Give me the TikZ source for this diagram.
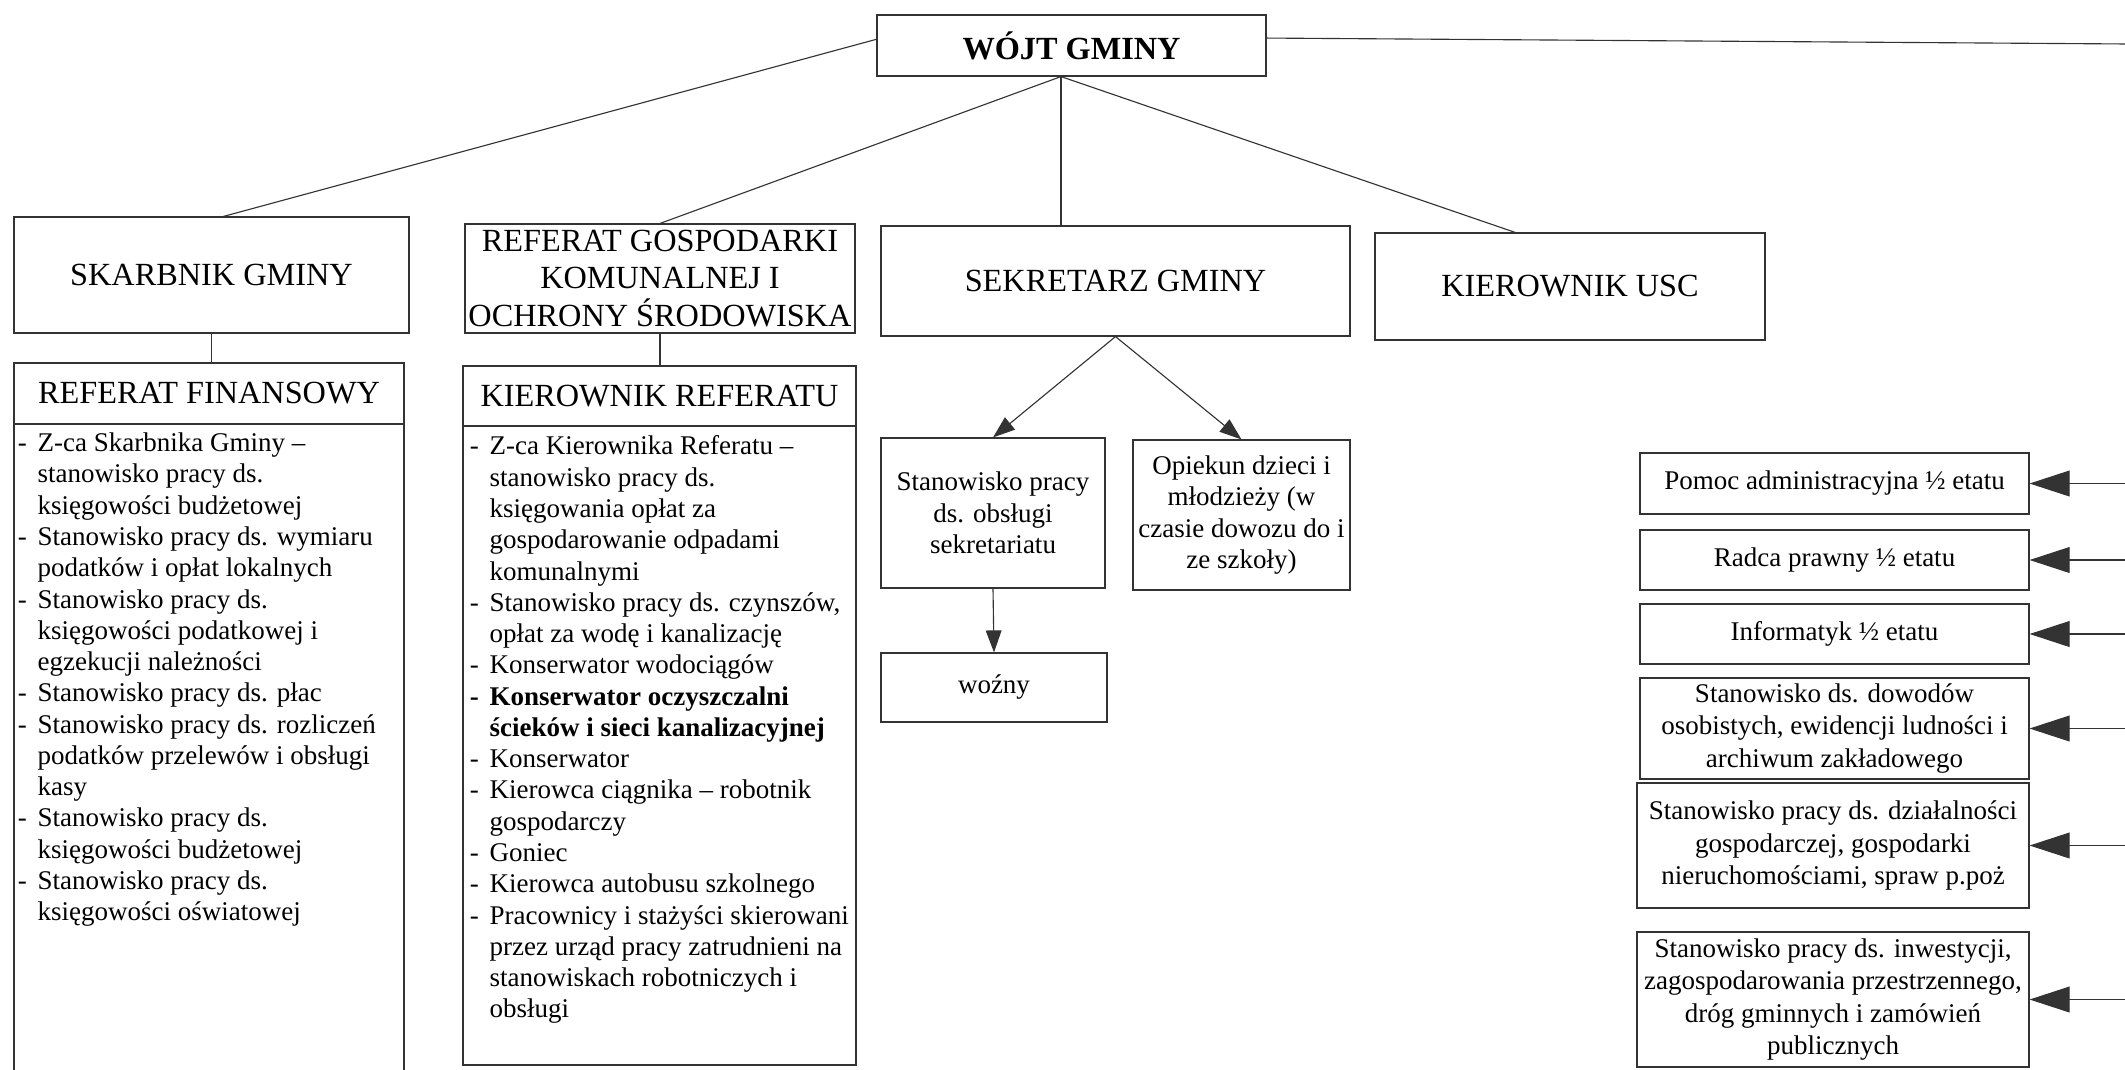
\documentclass[tikz,border=0pt]{standalone}
\usepackage{fontspec}
\setmainfont{Liberation Serif}
\usetikzlibrary{arrows.meta,calc}
\def\pxu{0.4444pt}
\newcommand{\li}{\makebox[8.8pt][l]{-}}
\newcommand{\ci}{\hspace*{8.8pt}}
\tikzset{
  box/.style 2 args={draw=black!80, line width=0.5pt, rectangle, inner sep=0pt,
    minimum width={#1*\pxu}, minimum height={#2*\pxu}, align=center},
  headfont/.style={font=\fontsize{14.35}{16.5}\selectfont},
  bodyfont/.style={font=\fontsize{12}{13.9}\selectfont},
  rightfont/.style={font=\fontsize{12}{14.4}\selectfont},
  listtext/.style={anchor=north west, inner sep=0pt, align=left, font=\fontsize{12}{13.9}\selectfont},
  conn/.style={draw=black!80, line width=0.5pt},
  sarrow/.style={conn, -{Triangle[length=9.8pt,width=7pt]}},
  barrow/.style={conn, -{Triangle[length=17.8pt,width=11.5pt]}},
}
\begin{document}
\begin{tikzpicture}[x=\pxu, y=-\pxu]
\useasboundingbox (0,0) rectangle (2125,1069);

% top level
\node[box={389}{61}, font=\fontsize{14.35}{16.5}\selectfont\bfseries] (wojt) at (1071.5,45.5) {WÓJT GMINY};
\node[box={395}{116}, headfont] (skarb) at (211.5,275) {SKARBNIK GMINY};
\node[box={390}{109}, headfont] (refg) at (660,278.5) {REFERAT GOSPODARKI\\KOMUNALNEJ I\\OCHRONY ŚRODOWISKA};
\node[box={469}{110}, headfont] (sek) at (1115.5,281) {SEKRETARZ GMINY};
\node[box={390}{107}, headfont] (usc) at (1570,286.5) {KIEROWNIK USC};

% connectors from Wojt
\coordinate (wb) at ($(wojt.south west)!0.473!(wojt.south east)$);
\coordinate (ww) at ($(wojt.north west)!0.4!(wojt.south west)$);
\coordinate (we) at ($(wojt.north east)!0.38!(wojt.south east)$);
\coordinate (edge) at (2130,0);
\coordinate (wr) at (2130,44);
\draw[conn] (ww) -- ($(skarb.north west)!0.53!(skarb.north east)$);
\draw[conn] (wb) -- (refg.north);
\draw[conn] (wb) -- (wb |- sek.north);
\draw[conn] (wb) -- ($(usc.north west)!0.36!(usc.north east)$);
\draw[conn] (we) -- (wr);

% Referat finansowy
\node[box={390}{61}, headfont] (rfh) at (209,393.5) {REFERAT FINANSOWY};
\node[box={390}{656}] (rfb) at (209,752) {};
\draw[conn] (skarb.south) -- (skarb.south |- rfh.north);
\node[listtext] (rfl) at ($(rfb.north west)+(4,9)$) {%
\li Z-ca Skarbnika Gminy –\\
\ci stanowisko pracy ds.\\
\ci księgowości budżetowej\\
\li Stanowisko pracy ds. wymiaru\\
\ci podatków i opłat lokalnych\\
\li Stanowisko pracy ds.\\
\ci księgowości podatkowej i\\
\ci egzekucji należności\\
\li Stanowisko pracy ds. płac\\
\li Stanowisko pracy ds. rozliczeń\\
\ci podatków przelewów i obsługi\\
\ci kasy\\
\li Stanowisko pracy ds.\\
\ci księgowości budżetowej\\
\li Stanowisko pracy ds.\\
\ci księgowości oświatowej};

% Kierownik referatu
\node[box={393}{60}, headfont] (krh) at (659.5,396) {KIEROWNIK REFERATU};
\node[box={393}{639}] (krb) at (659.5,745.5) {};
\draw[conn] (refg.south) -- (refg.south |- krh.north);
\node[listtext] (krl) at ($(krb.north west)+(7,10)$) {%
\li Z-ca Kierownika Referatu –\\
\ci stanowisko pracy ds.\\
\ci księgowania opłat za\\
\ci gospodarowanie odpadami\\
\ci komunalnymi\\
\li Stanowisko pracy ds. czynszów,\\
\ci opłat za wodę i kanalizację\\
\li Konserwator wodociągów\\
\textbf{\li Konserwator oczyszczalni}\\
\ci\textbf{ścieków i sieci kanalizacyjnej}\\
\li Konserwator\\
\li Kierowca ciągnika – robotnik\\
\ci gospodarczy\\
\li Goniec\\
\li Kierowca autobusu szkolnego\\
\li Pracownicy i stażyści skierowani\\
\ci przez urząd pracy zatrudnieni na\\
\ci stanowiskach robotniczych i\\
\ci obsługi};

% Sekretarz subordinates
\node[box={224}{150}, bodyfont] (sp) at (993,513) {Stanowisko pracy\\ds. obsługi\\sekretariatu};
\node[box={217}{150}, bodyfont] (op) at (1241.5,515) {Opiekun dzieci i\\młodzieży (w\\czasie dowozu do i\\ze szkoły)};
\node[box={226}{69}, bodyfont] (wo) at (994,687.5) {woźny};
\draw[sarrow] (sek.south) -- (sp.north);
\draw[sarrow] (sek.south) -- (op.north);
\draw[sarrow] (sp.south) -- (wo.north);

% right column
\node[box={389}{61}, rightfont] (r1) at (1834.5,483.5) {Pomoc administracyjna ½ etatu};
\node[box={389}{60}, rightfont] (r2) at (1834.5,560) {Radca prawny ½ etatu};
\node[box={389}{60}, rightfont] (r3) at (1834.5,634) {Informatyk ½ etatu};
\node[box={389}{101}, rightfont] (r4) at (1834.5,728.5) {Stanowisko ds. dowodów\\osobistych, ewidencji ludności i\\archiwum zakładowego};
\node[box={392}{125}, rightfont] (r5) at (1833,845.5) {Stanowisko pracy ds. działalności\\gospodarczej, gospodarki\\nieruchomościami, spraw p.poż};
\node[box={392}{135}, rightfont] (r6) at (1833,999.5) {Stanowisko pracy ds. inwestycji,\\zagospodarowania przestrzennego,\\dróg gminnych i zamówień\\publicznych};
\foreach \r in {r1,r2,r3,r4,r5,r6}{
  \draw[barrow] (\r.east -| edge) -- (\r.east);
}
\end{tikzpicture}
\end{document}
